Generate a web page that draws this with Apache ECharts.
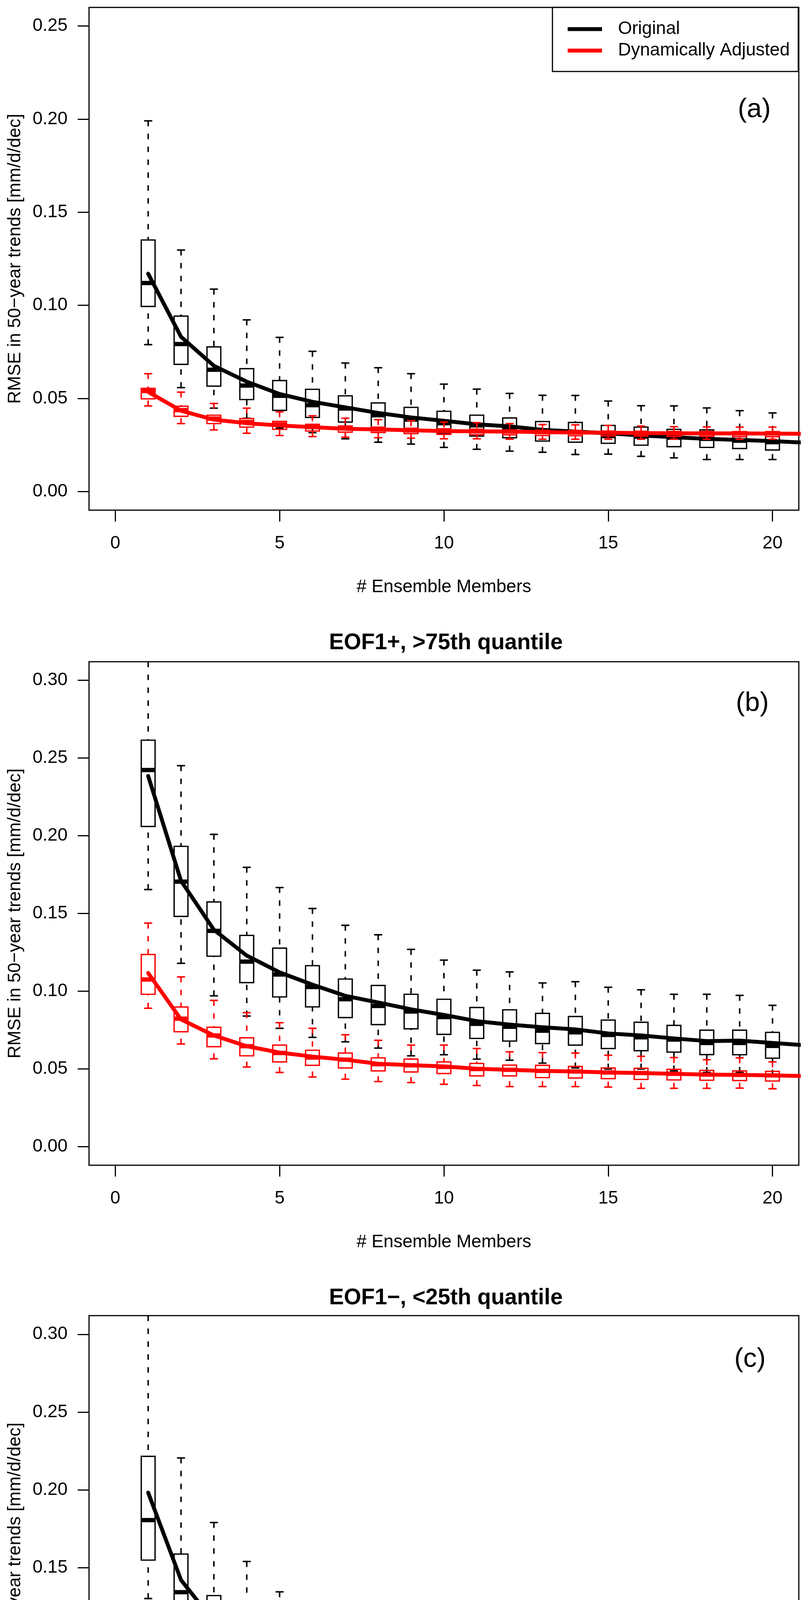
<!DOCTYPE html>
<html>
<head>
<meta charset="utf-8">
<script src="https://cdn.jsdelivr.net/npm/echarts@6/dist/echarts.min.js"></script>
<style>
html,body{margin:0;padding:0;background:#fff;}
#chart{width:2067px;height:4888px;}
</style>
</head>
<body>
<div id="chart"></div>
<script>
// ---- Data (x = number of ensemble members 1..20) ----
// Box rows: [lowerWhisker, Q1, median, Q3, upperWhisker]
const members = [1,2,3,4,5,6,7,8,9,10,11,12,13,14,15,16,17,18,19,20];
const lineX = [1,2,3,4,5,6,7,8,9,10,11,12,13,14,15,16,17,18,19,20,21];
const xTicks = [0,5,10,15,20];
const yTicksA = [0,0.05,0.10,0.15,0.20,0.25];
const yTicksBC = [0,0.05,0.10,0.15,0.20,0.25,0.30];
const seriesNames = ['Original','Dynamically Adjusted'];
const panelTitles = ['', 'EOF1+, >75th quantile', 'EOF1\u2212, <25th quantile'];
const panelTags = ['(a)','(b)','(c)'];

const boxA_orig = [
 [0.0789,0.0994,0.112,0.1351,0.1991],[0.0558,0.0683,0.0792,0.0942,0.1297],
 [0.0448,0.0566,0.0654,0.0777,0.1087],[0.0394,0.0494,0.0569,0.066,0.0922],
 [0.0341,0.0436,0.0514,0.0596,0.0828],[0.0316,0.0398,0.0464,0.0549,0.0753],
 [0.0283,0.0373,0.0446,0.0514,0.069],[0.0265,0.0343,0.041,0.0476,0.0665],
 [0.0255,0.0325,0.0386,0.0452,0.0633],[0.0237,0.0313,0.0367,0.0431,0.0577],
 [0.0227,0.0298,0.0355,0.041,0.055],[0.0217,0.0289,0.0343,0.0395,0.0527],
 [0.0211,0.0271,0.0325,0.0376,0.0517],[0.0199,0.0265,0.0319,0.0371,0.0516],
 [0.0201,0.0259,0.0298,0.0355,0.0486],[0.0189,0.0249,0.0295,0.0346,0.0461],
 [0.0181,0.0241,0.0289,0.0334,0.046],[0.0172,0.0237,0.0283,0.0331,0.0449],
 [0.0172,0.0231,0.0273,0.0319,0.0434],[0.0172,0.0223,0.0265,0.0313,0.0422]
];
const boxA_adj = [
 [0.046,0.0498,0.054,0.0554,0.0633],[0.0365,0.0404,0.0437,0.0458,0.0534],
 [0.0331,0.0365,0.0392,0.041,0.0473],[0.0313,0.0346,0.0373,0.0392,0.0448],
 [0.0301,0.0334,0.0361,0.0377,0.0428],[0.0295,0.0325,0.0346,0.0361,0.0407],
 [0.0292,0.0319,0.034,0.0352,0.0394],[0.0289,0.0317,0.0334,0.0346,0.0386],
 [0.0287,0.0311,0.0328,0.034,0.038],[0.0283,0.0307,0.0325,0.0337,0.0373],
 [0.0283,0.0305,0.0323,0.0335,0.037],[0.0281,0.0305,0.0322,0.0331,0.0365],
 [0.0281,0.0301,0.0319,0.0329,0.036],[0.0281,0.03,0.0317,0.0328,0.0358],
 [0.0281,0.0299,0.0316,0.0325,0.0355],[0.0281,0.0298,0.0314,0.0324,0.0352],
 [0.0281,0.0296,0.0313,0.0323,0.0348],[0.0281,0.0296,0.0312,0.0323,0.0347],
 [0.0281,0.0295,0.0312,0.0322,0.0346],[0.0281,0.0295,0.0312,0.0322,0.0346]
];
const meanA_orig = [0.117,0.0831,0.0675,0.059,0.0524,0.0482,0.0452,0.0422,0.0398,0.038,0.0361,0.035,0.0331,0.0322,0.0313,0.0301,0.0292,0.0283,0.0277,0.0271,0.0262];
const meanA_adj  = [0.0535,0.0434,0.0386,0.0367,0.0355,0.0346,0.0337,0.0334,0.0329,0.0325,0.0323,0.0322,0.0319,0.0317,0.0316,0.0314,0.0313,0.0312,0.0312,0.0311,0.031];

const boxB_orig = [
 [0.1654,0.206,0.2423,0.2615,0.335],[0.1179,0.1481,0.1705,0.1932,0.2451],
 [0.097,0.1225,0.1388,0.1574,0.2009],[0.084,0.1055,0.119,0.1359,0.1797],
 [0.0761,0.0963,0.1107,0.1277,0.1667],[0.0703,0.0899,0.1027,0.1164,0.1532],
 [0.0674,0.083,0.0948,0.1078,0.1424],[0.0634,0.0785,0.0905,0.1037,0.1363],
 [0.0584,0.0758,0.0869,0.098,0.1269],[0.0591,0.0722,0.0833,0.0948,0.12],
 [0.0563,0.0696,0.079,0.0895,0.1135],[0.0556,0.0679,0.0771,0.088,0.1124],
 [0.0537,0.0663,0.0746,0.0857,0.1053],[0.0506,0.0653,0.0735,0.0837,0.1061],
 [0.0499,0.0631,0.0718,0.0814,0.1025],[0.0499,0.0617,0.0703,0.08,0.1009],
 [0.0487,0.0608,0.0689,0.078,0.098],[0.0477,0.0592,0.0667,0.0749,0.098],
 [0.0477,0.0591,0.0667,0.0749,0.0973],[0.046,0.0569,0.0648,0.0735,0.0909]
];
const boxB_adj = [
 [0.089,0.098,0.1075,0.1236,0.1438],[0.066,0.0739,0.0823,0.0898,0.1092],
 [0.0565,0.0643,0.0715,0.0768,0.0941],[0.0512,0.0584,0.0646,0.07,0.0862],
 [0.0477,0.0545,0.0602,0.0653,0.0797],[0.0448,0.0523,0.0573,0.062,0.0761],
 [0.0434,0.0506,0.0559,0.0602,0.072],[0.0418,0.0487,0.053,0.0571,0.0684],
 [0.0412,0.048,0.0523,0.0563,0.0653],[0.0401,0.047,0.0513,0.0545,0.0653],
 [0.0393,0.0455,0.0499,0.0535,0.0631],[0.0386,0.0455,0.0494,0.0524,0.061],
 [0.0386,0.0444,0.0487,0.0523,0.0605],[0.0386,0.0441,0.0483,0.0516,0.0602],
 [0.0383,0.0437,0.0477,0.0506,0.0588],[0.0375,0.0432,0.0473,0.0504,0.0581],
 [0.0375,0.0429,0.0468,0.0497,0.0573],[0.0375,0.0427,0.0463,0.049,0.0559],
 [0.0376,0.0425,0.0461,0.0487,0.0571],[0.0372,0.0422,0.0458,0.0484,0.0545]
];
const meanB_orig = [0.2385,0.171,0.1395,0.1229,0.1121,0.1042,0.097,0.0927,0.0883,0.0847,0.0807,0.0785,0.0768,0.0754,0.0728,0.0715,0.0696,0.0679,0.0682,0.0667,0.0652];
const meanB_adj  = [0.1117,0.0818,0.0715,0.0646,0.0605,0.0579,0.0559,0.0533,0.0524,0.0516,0.0501,0.0494,0.0487,0.0483,0.0477,0.0473,0.0468,0.0463,0.0461,0.0458,0.0454];

const boxC_orig = [
 [0.1301,0.1548,0.1805,0.2215,0.335],[0.0963,0.1161,0.1342,0.1587,0.2205],
 [0.0813,0.0981,0.1135,0.132,0.179],[0.07,0.0869,0.0996,0.1157,0.1539],
 [0.0635,0.0782,0.089,0.1024,0.1344],[0.0602,0.0736,0.0837,0.0957,0.1287],
 [0.0563,0.0693,0.078,0.0885,0.1231],[0.0527,0.065,0.0736,0.083,0.1104],
 [0.0503,0.0611,0.0696,0.0787,0.1079],[0.0491,0.0599,0.0683,0.078,0.102],
 [0.0458,0.0563,0.065,0.0736,0.0974],[0.0448,0.0552,0.0621,0.07,0.0899],
 [0.0434,0.053,0.0592,0.0671,0.0873],[0.0427,0.0517,0.0585,0.0674,0.0885],
 [0.0419,0.051,0.0578,0.066,0.0859],[0.0412,0.0494,0.0563,0.0643,0.0823],
 [0.0405,0.0488,0.0549,0.0614,0.078],[0.0398,0.0474,0.0542,0.0611,0.0787],
 [0.039,0.047,0.0539,0.0607,0.0775],[0.0383,0.046,0.0527,0.0585,0.0754]
];
const boxC_adj = [
 [0.0816,0.0898,0.0999,0.1035,0.114],[0.0633,0.069,0.0736,0.0772,0.0899],
 [0.0542,0.0591,0.0631,0.066,0.0784],[0.0491,0.0539,0.0578,0.0611,0.0707],
 [0.0458,0.0501,0.0539,0.0571,0.0653],[0.0438,0.0477,0.0513,0.0542,0.0635],
 [0.0416,0.0463,0.0499,0.0524,0.0607],[0.0405,0.0448,0.0484,0.0509,0.0588],
 [0.0395,0.0434,0.0463,0.0491,0.0568],[0.0383,0.0427,0.0455,0.0484,0.0553],
 [0.0376,0.0416,0.0444,0.0473,0.0542],[0.0376,0.0412,0.0437,0.0463,0.0527],
 [0.0372,0.0408,0.0434,0.0458,0.0527],[0.0366,0.0405,0.0427,0.0452,0.0509],
 [0.0366,0.04,0.0424,0.0448,0.0509],[0.0362,0.0398,0.0419,0.0444,0.0499],
 [0.0359,0.0395,0.0416,0.0441,0.0491],[0.0357,0.0393,0.0415,0.0438,0.0491],
 [0.0357,0.039,0.0412,0.0434,0.0491],[0.0352,0.0388,0.0409,0.0429,0.0484]
];
const meanC_orig = [0.1982,0.142,0.1154,0.1024,0.0916,0.0866,0.0808,0.0751,0.0715,0.07,0.0664,0.0628,0.0614,0.061,0.0597,0.0573,0.0556,0.0549,0.0546,0.0539,0.0526];
const meanC_adj  = [0.0996,0.0736,0.0635,0.0581,0.0542,0.052,0.0501,0.0487,0.047,0.046,0.0448,0.0441,0.0434,0.0427,0.0424,0.0419,0.0416,0.0415,0.0412,0.0409,0.0406];

// ---- Styling / layout ----
const FONT = '"Liberation Sans", Arial, Helvetica, sans-serif';
const COLORS = ['#000000', '#ff0000'];
const BOX_W = 0.42;
const panels = [
  {top: 19,   height: 1287, ymin: -0.01,  ymax: 0.26,  ticks: yTicksA,  boxes: [boxA_orig, boxA_adj], means: [meanA_orig, meanA_adj]},
  {top: 1694, height: 1289, ymin: -0.012, ymax: 0.312, ticks: yTicksBC, boxes: [boxB_orig, boxB_adj], means: [meanB_orig, meanB_adj]},
  {top: 3368, height: 1290, ymin: -0.012, ymax: 0.312, ticks: yTicksBC, boxes: [boxC_orig, boxC_adj], means: [meanC_orig, meanC_adj]}
];
const tagPos = [[1932, 281], [1927, 1801], [1921, 3480]];
const titleTops = [0, 1613, 3290];

function boxRender(color) {
  return function (params, api) {
    const x = api.value(0);
    const lo = api.value(1), q1 = api.value(2), med = api.value(3), q3 = api.value(4), hi = api.value(5);
    const cs = params.coordSys;
    const half = api.size([BOX_W, 0])[0] / 2;
    const c = api.coord([x, med]);
    const cx = c[0];
    const clampY = y => Math.max(cs.y, Math.min(cs.y + cs.height, y));
    const yLo = clampY(api.coord([x, lo])[1]);
    const yQ1 = api.coord([x, q1])[1];
    const yMed = c[1];
    const yQ3 = api.coord([x, q3])[1];
    const yHiRaw = api.coord([x, hi])[1];
    const yHi = clampY(yHiRaw);
    const thin = {stroke: color, lineWidth: 3.4, fill: null};
    const dash = {stroke: color, lineWidth: 3.8, lineDash: [14, 19], lineCap: 'butt'};
    const children = [
      {type: 'line', shape: {x1: cx, y1: yHi, x2: cx, y2: yQ3}, style: dash},
      {type: 'line', shape: {x1: cx, y1: yLo, x2: cx, y2: yQ1}, style: dash},
      {type: 'rect', shape: {x: cx - half, y: yQ3, width: 2 * half, height: yQ1 - yQ3}, style: thin},
      {type: 'line', shape: {x1: cx - half + 1.5, y1: yMed, x2: cx + half - 1.5, y2: yMed}, style: {stroke: color, lineWidth: 11, lineCap: 'butt'}},
      {type: 'line', shape: {x1: cx - half / 2, y1: yLo, x2: cx + half / 2, y2: yLo}, style: {stroke: color, lineWidth: 3.8, lineCap: 'round'}}
    ];
    if (yHiRaw >= cs.y) {
      children.push({type: 'line', shape: {x1: cx - half / 2, y1: yHi, x2: cx + half / 2, y2: yHi}, style: {stroke: color, lineWidth: 3.8, lineCap: 'round'}});
    }
    return {type: 'group', children: children};
  };
}

const grids = [], xAxes = [], yAxes = [], series = [], titles = [], graphics = [];
panels.forEach((p, i) => {
  grids.push({left: 228, top: p.top, width: 1818, height: p.height, show: true,
    borderColor: '#000', borderWidth: 3, backgroundColor: 'transparent', containLabel: false});
  xAxes.push({type: 'value', gridIndex: i, min: -0.8, max: 20.8, position: 'bottom',
    name: '# Ensemble Members', nameLocation: 'middle', nameGap: 174,
    nameTextStyle: {fontSize: 46, fontFamily: FONT, color: '#000'},
    axisLine: {show: false, onZero: false},
    axisTick: {show: true, inside: false, length: 29, lineStyle: {color: '#000', width: 3}, customValues: xTicks},
    axisLabel: {show: true, fontSize: 46, fontFamily: FONT, color: '#000', margin: 62, customValues: xTicks,
      formatter: v => String(Math.round(v))},
    splitLine: {show: false}});
  yAxes.push({type: 'value', gridIndex: i, min: p.ymin, max: p.ymax, position: 'left',
    name: 'RMSE in 50\u2212year trends [mm/d/dec]', nameLocation: 'middle', nameGap: 166, nameRotate: 90,
    nameTextStyle: {fontSize: 46, fontFamily: FONT, color: '#000'},
    axisLine: {show: false, onZero: false},
    axisTick: {show: true, inside: false, length: 29, lineStyle: {color: '#000', width: 3}, customValues: p.ticks},
    axisLabel: {show: true, fontSize: 46, fontFamily: FONT, color: '#000', margin: 55, customValues: p.ticks,
      formatter: v => v.toFixed(2)},
    splitLine: {show: false}});
  [0, 1].forEach(k => {
    series.push({type: 'custom', name: 'box' + i + k, xAxisIndex: i, yAxisIndex: i, clip: true,
      renderItem: boxRender(COLORS[k]),
      encode: {x: 0, y: [1, 2, 3, 4, 5]},
      data: members.map((m, j) => [m].concat(p.boxes[k][j])), silent: true, z: 2 + k * 2});
    series.push({type: 'line', name: seriesNames[k], xAxisIndex: i, yAxisIndex: i,
      data: lineX.map((m, j) => [m, p.means[k][j]]), showSymbol: false, symbol: 'none',
      color: COLORS[k], lineStyle: {color: COLORS[k], width: 10, join: 'round', cap: 'round'},
      clip: true, silent: true, animation: false, z: 3 + k * 2});
  });
  if (panelTitles[i]) {
    titles.push({text: panelTitles[i], left: 1137, top: titleTops[i], textAlign: 'center',
      textStyle: {fontSize: 57, fontWeight: 'bold', fontFamily: FONT, color: '#000'}});
  }
  graphics.push({type: 'text', x: tagPos[i][0], y: tagPos[i][1],
    style: {text: panelTags[i], fontSize: 69, fontFamily: FONT, fill: '#000', align: 'center', verticalAlign: 'middle'}});
});

const chart = echarts.init(document.getElementById('chart'), null, {renderer: 'canvas', width: 2067, height: 4888});
chart.setOption({
  animation: false,
  backgroundColor: '#fff',
  title: titles,
  grid: grids,
  xAxis: xAxes,
  yAxis: yAxes,
  legend: {
    data: seriesNames.map(n => ({name: n, icon: 'rect'})),
    orient: 'vertical', left: 1415, top: 19,
    padding: [28, 22, 26, 39], itemGap: 0, itemWidth: 88, itemHeight: 10,
    backgroundColor: '#fff', borderColor: '#000', borderWidth: 3, borderRadius: 0,
    selectedMode: false,
    textStyle: {fontSize: 46, fontFamily: FONT, color: '#000', lineHeight: 55, padding: [0, 0, 0, 36]}
  },
  graphic: graphics,
  series: series
});
</script>
</body>
</html>
